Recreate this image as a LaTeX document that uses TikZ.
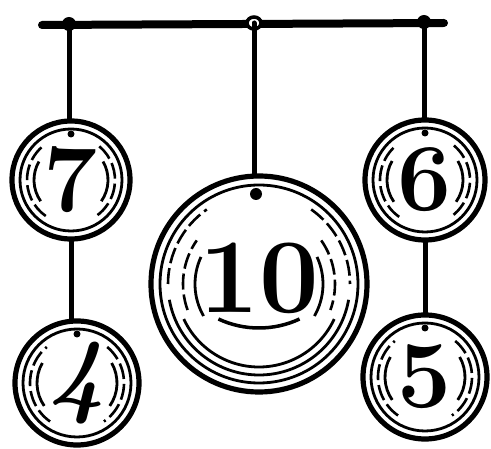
\documentclass[tikz,border=0pt]{standalone}
\begin{document}
\begin{tikzpicture}[x=1pt,y=-1pt,
  ball/.style={circle, draw, line width=5.2pt, inner sep=0pt, fill=white,
    font=\fontsize{96}{96}\selectfont\bfseries},
  cord/.style={line width=5pt, line cap=round},
  ring/.style={line width=2.8pt},
  thinring/.style={line width=2.6pt, dash pattern=on 16pt off 5pt}]
\useasboundingbox (0,0) rectangle (491,449);
% bar
\coordinate (barL) at (42,25);
\coordinate (barR) at (444,23);
\coordinate (k1) at (69,24);
\coordinate (k2) at (254,23);
\coordinate (k3) at (424,22);
\draw[line width=8pt, line cap=round] (barL) -- (barR);
\fill (k1) ellipse[x radius=7, y radius=7];
\draw[line width=3.5pt, fill=white] (k2) ellipse[x radius=7, y radius=6];
\fill (k3) ellipse[x radius=7, y radius=7];
% balls
\node[ball, minimum size=118pt] (b7) at (71,180) {7};
\node[ball, minimum size=124pt] (b4) at (77,383) {\itshape 4};
\node[ball, minimum size=216pt, text depth=12pt, font=\fontsize{106}{106}\selectfont\bfseries] (b10) at (259,284) {10};
\node[ball, minimum size=120pt] (b6) at (425,180) {6};
\node[ball, minimum size=124pt] (b5) at (425,377) {5};
% cords
\draw[cord] (k1) -- (k1 |- b7.north);
\draw[cord] (b7.south) -- (b7.south |- b4.north);
\draw[cord] (k2) -- (k2 |- b10.north);
\draw[cord] (k3) -- (k3 |- b6.north);
\draw[cord] (b6.south) -- (b6.south |- b5.north);
% rings of the small balls
\foreach \n/\r in {b7/59, b4/62, b6/60, b5/62}{
  \draw[ring] (\n.center) circle[radius=\r-8];
  \draw[thinring] (\n.center) ++(125:\r-15) arc[start angle=125, end angle=230, radius=\r-15];
  \draw[thinring] (\n.center) ++(-50:\r-15) arc[start angle=-50, end angle=55, radius=\r-15];
  \draw[ring] (\n.center) ++(145:\r-22) arc[start angle=145, end angle=210, radius=\r-22];
  \draw[ring] (\n.center) ++(-30:\r-22) arc[start angle=-30, end angle=35, radius=\r-22];
  \fill (\n.center) ++(0,-\r+13) circle[radius=3.5];
}
% rings of the big ball
\draw[ring] (b10.center) circle[radius=99];
\draw[ring] (b10.center) ++(10:91) arc[start angle=10, end angle=170, radius=91];
\draw[ring] (b10.center) ++(25:83) arc[start angle=25, end angle=155, radius=83];
\draw[thinring] (b10.center) ++(180:91) arc[start angle=180, end angle=235, radius=91];
\draw[thinring] (b10.center) ++(-55:91) arc[start angle=-55, end angle=0, radius=91];
\draw[thinring] (b10.center) ++(160:76) arc[start angle=160, end angle=215, radius=76];
\draw[thinring] (b10.center) ++(-35:76) arc[start angle=-35, end angle=20, radius=76];
\draw[ring] (b10.center) ++(150:64) arc[start angle=150, end angle=205, radius=64];
\draw[ring] (b10.center) ++(-25:64) arc[start angle=-25, end angle=30, radius=64];
\draw[line width=3.5pt] (b10.center) ++(0,-52) ++(65:96) arc[start angle=65, end angle=115, radius=96];
\fill (b10.center) ++(-3,-90) circle[radius=6];
\end{tikzpicture}
\end{document}
